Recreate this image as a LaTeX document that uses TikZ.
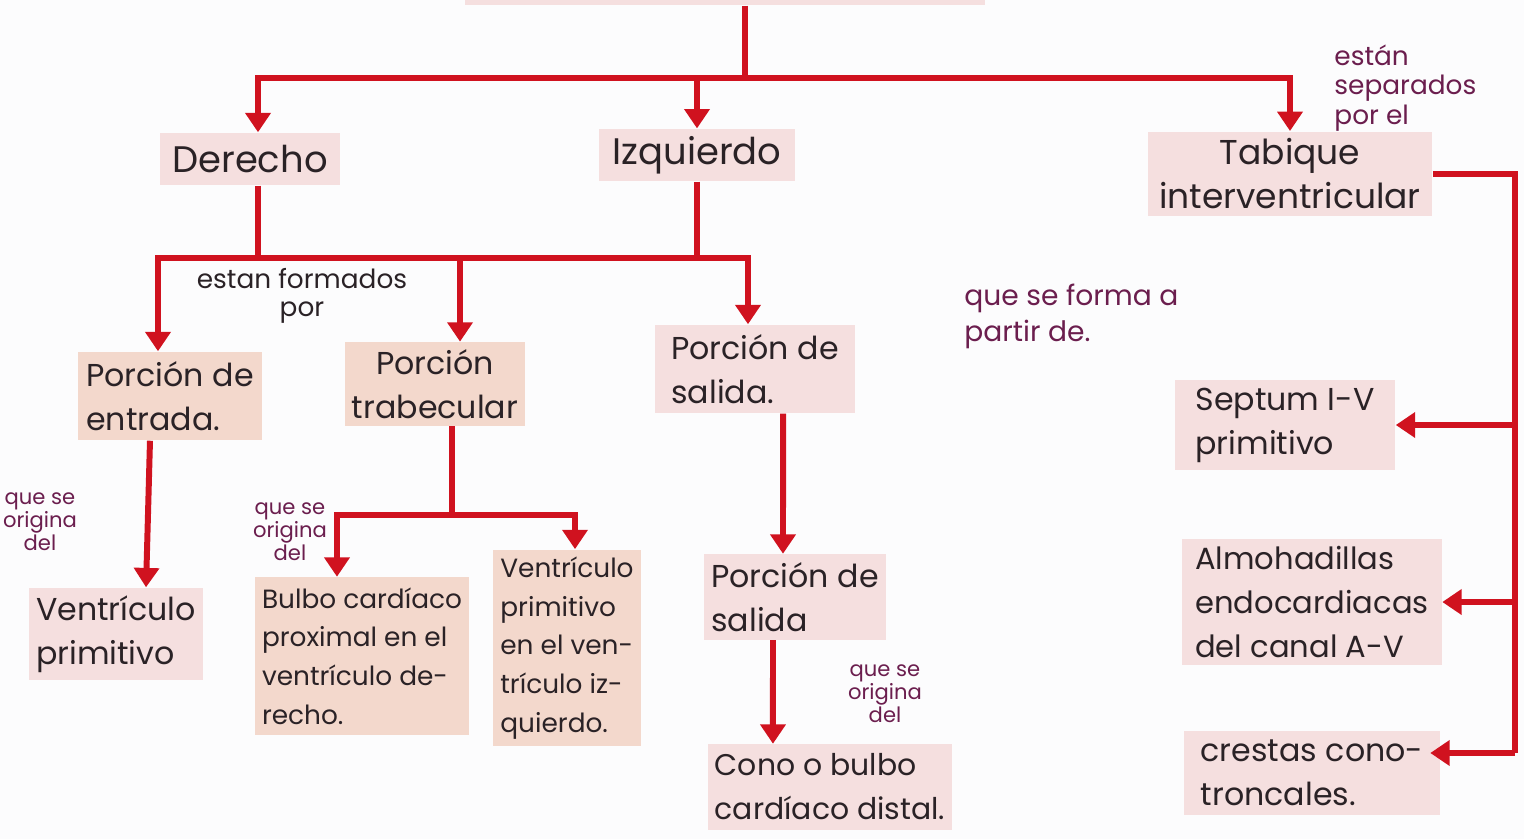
\documentclass[tikz,border=0pt]{standalone}
\usepackage{fontspec}
\setmainfont{Poppins}
\usepackage{tikz}
\usetikzlibrary{arrows.meta, positioning}

\definecolor{linered}{HTML}{D0121F}
\definecolor{boxpink}{HTML}{F5DFDF}
\definecolor{boxpeach}{HTML}{F3D8CC}
\definecolor{inkpurple}{HTML}{6B1E4E}
\definecolor{inkdark}{HTML}{2A2226}
\definecolor{paper}{HTML}{FCFCFD}

\begin{document}
\begin{tikzpicture}[
    x=0.01cm, y=-0.01cm,
    box/.style={rectangle, fill=boxpink, inner sep=2pt, align=left, text=inkdark},
    peach/.style={box, fill=boxpeach},
    bigtxt/.style={font=\fontsize{10.5}{13}\selectfont},
    midtxt/.style={font=\fontsize{9}{12.5}\selectfont},
    smalltxt/.style={font=\fontsize{7.5}{11}\selectfont},
    note/.style={align=center, text=inkpurple, font=\fontsize{6}{6.5}\selectfont},
    wire/.style={draw=linered, line width=1.7pt},
    arrow/.style={wire, -{Triangle[width=7pt,length=5.5pt]}}
]
\useasboundingbox (0,0) rectangle (1524,839);
\fill[paper] (0,0) rectangle (1524,839);

% Title (cut off at the top)
\node[box, minimum width=5.2cm, minimum height=0.5cm] (title) at (725,-20) {};

% First level
\node[box, bigtxt, minimum width=1.8cm, minimum height=0.52cm] (derecho) at (250,159) {Derecho};
\node[box, bigtxt, minimum width=1.95cm, minimum height=0.5cm] (izq) at (697,155) {Izquierdo};
\node[box, align=center, font=\fontsize{9.8}{12.5}\selectfont, minimum width=2.84cm, minimum height=0.82cm] (tabique) at (1290,174) {Tabique\\interventricular};

% Porciones
\node[peach, midtxt, minimum width=1.84cm, minimum height=0.88cm] (entrada) at (170,396) {Porción de\\entrada.};
\node[peach, midtxt, align=center, minimum width=1.8cm, minimum height=0.82cm] (trab) at (435,384) {Porción\\trabecular};
\node[box, midtxt, minimum width=2cm, minimum height=0.88cm] (salida1) at (755,369) {Porción de\\salida.};

% Origenes
\node[box, midtxt, minimum width=1.57cm, minimum height=0.92cm] (ventprim) at (116,634) {Ventrículo\\primitivo};
\node[peach, smalltxt, minimum width=1.95cm, minimum height=1.57cm] (bulbo) at (362,656) {Bulbo cardíaco\\proximal en el\\ventrículo de-\\recho.};
\node[peach, smalltxt, minimum width=1.25cm, minimum height=1.63cm] (ventizq) at (567,648) {Ventrículo\\primitivo\\en el ven-\\trículo iz-\\quierdo.};
\node[box, midtxt, minimum width=1.8cm, minimum height=0.85cm] (salida2) at (795,597) {Porción de\\salida};
\node[box, font=\fontsize{8.5}{12.5}\selectfont, minimum width=2.3cm, minimum height=0.85cm] (cono) at (830,787) {Cono o bulbo\\cardíaco distal.};

% Tabique
\node[box, midtxt, minimum width=2.2cm, minimum height=0.9cm] (septum) at (1285,425) {Septum I-V\\primitivo};
\node[box, font=\fontsize{8.7}{12.5}\selectfont, minimum width=2.59cm, minimum height=1.25cm] (almo) at (1312,602) {Almohadillas\\endocardiacas\\del canal A-V};
\node[box, midtxt, minimum width=2.55cm, minimum height=0.83cm] (crestas) at (1312,773) {crestas cono-\\troncales.};

% Notes
\node[note, align=left, anchor=north west, font=\fontsize{7.5}{8.5}\selectfont] (n1) at (1322,32) {están\\separados\\por el};
\node[note, text=inkdark, font=\fontsize{7.5}{8}\selectfont] (n2) at (302,296) {estan formados\\por};
\node[note, align=left, anchor=north west, font=\fontsize{8}{10}\selectfont] (n3) at (952,272) {que se forma a\\partir de.};
\node[note] (n4) at (40,522) {que se\\origina\\del};
\node[note] (n5) at (290,532) {que se\\origina\\del};
\node[note] (n6) at (885,694) {que se\\origina\\del};

% Arrows
\coordinate (bar1) at (745,78);
\coordinate (bar2) at (0,258);
\coordinate (bar3) at (0,515);
\coordinate (rail) at (1515,0);
\coordinate (crA) at ([yshift=0.2cm]crestas.east);

\draw[wire] (bar1 |- title.south) -- (bar1);
\draw[arrow] (bar1) -| ([xshift=0.08cm]derecho.north);
\draw[arrow] (bar1) -| (izq.north);
\draw[arrow] (bar1) -| (tabique.north);

\draw[wire] ([xshift=0.08cm]derecho.south) -- ([xshift=0.08cm]derecho.south |- bar2);
\draw[wire] (izq.south) -- (izq.south |- bar2);
\draw[wire] (derecho.south |- bar2) -- (izq.south |- bar2);
\draw[arrow] (derecho.south |- bar2) -| ([xshift=-0.12cm]entrada.north);
\draw[arrow] (derecho.south |- bar2) -| ([xshift=0.25cm]trab.north);
\draw[arrow] (izq.south |- bar2) -| ([xshift=-0.07cm]salida1.north);

\draw[arrow] ([xshift=-0.2cm]entrada.south) -- ([xshift=0.3cm]ventprim.north);

\coordinate (tr) at ([xshift=0.17cm]trab.south);
\draw[wire] (tr) -- (tr |- bar3);
\draw[arrow] (tr |- bar3) -| ([xshift=-0.25cm]bulbo.north);
\draw[arrow] (tr |- bar3) -| ([xshift=0.08cm]ventizq.north);

\draw[arrow] ([xshift=0.28cm]salida1.south) -- ([xshift=-0.12cm]salida2.north);
\draw[arrow] ([xshift=-0.22cm]salida2.south) -- ([xshift=-0.57cm]cono.north);

\draw[wire] (tabique.east) -| (rail |- crA);
\draw[arrow] (rail |- septum.east) -- (septum.east);
\draw[arrow] (rail |- almo.east) -- (almo.east);
\draw[arrow] (rail |- crA) -- ([xshift=-0.1cm]crA);

\end{tikzpicture}
\end{document}
